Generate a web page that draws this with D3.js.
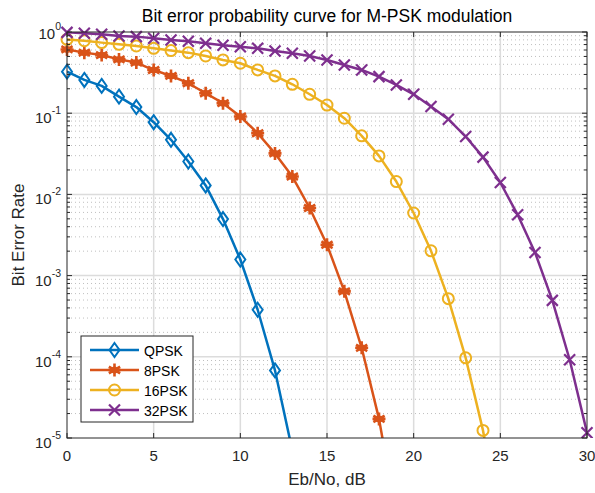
<!DOCTYPE html>
<html>
<head>
<meta charset="utf-8">
<script src="https://cdn.jsdelivr.net/npm/d3@7"></script>
<style>
  body { margin: 0; background: #fff; }
  svg { display: block; font-family: Helvetica, Arial, "Liberation Sans", sans-serif; }
</style>
</head>
<body>
<svg id="chart" width="595" height="493"></svg>
<script>
'use strict';

// Eb/No in dB
const ebno = d3.range(0, 31);

const qpsk = [0.325, 0.257, 0.217, 0.16, 0.119, 0.0775, 0.047, 0.0254, 0.0129,
  0.00497, 0.00158, 0.00038, 6.8e-5, 7e-6];
const psk8 = [0.61, 0.557, 0.52, 0.46, 0.42, 0.34, 0.288, 0.234, 0.176, 0.133,
  0.091, 0.0567, 0.032, 0.0166, 0.0068, 0.0024, 0.00064, 0.000129, 1.72e-5, 1.1e-6];
const psk16 = [0.81, 0.78, 0.74, 0.705, 0.673, 0.63, 0.59, 0.557, 0.507, 0.453,
  0.412, 0.341, 0.288, 0.227, 0.171, 0.126, 0.0867, 0.0526, 0.0298, 0.0144,
  0.0059, 0.00202, 0.00052, 9.7e-5, 1.24e-5, 8e-7];
const psk32 = [0.99, 0.963, 0.936, 0.893, 0.877, 0.836, 0.798, 0.768, 0.726, 0.686,
  0.66, 0.63, 0.584, 0.547, 0.507, 0.453, 0.393, 0.341, 0.282, 0.223,
  0.171, 0.121, 0.0843, 0.0516, 0.0288, 0.014, 0.0056, 0.00193, 0.000495, 9.2e-5, 1.16e-5];

const seriesNames = ['QPSK', '8PSK', '16PSK', '32PSK'];
const seriesValues = [qpsk, psk8, psk16, psk32];
const seriesMarkers = ['diamond', 'asterisk', 'circle', 'cross'];
const COLORS = ['#0072BD', '#D95319', '#EDB120', '#7E2F8E'];

const xTicks = [0, 5, 10, 15, 20, 25, 30];
const yTicks = [1e-5, 1e-4, 1e-3, 1e-2, 1e-1, 1];

const margin = { top: 32, right: 8, bottom: 55, left: 67 };
const W = 595, H = 493;
const width = W - margin.left - margin.right;
const height = H - margin.top - margin.bottom;
const axisColor = '#262626';

const svg = d3.select('#chart');
const defs = svg.append('defs');
const g = svg.append('g').attr('transform', `translate(${margin.left},${margin.top})`);

const x = d3.scaleLinear().domain([0, 30]).range([0, width]);
const y = d3.scaleLog().domain([1e-5, 1]).range([height, 0]);

// minor values for log axis
const minorY = [];
for (let e = -5; e < 0; e++) {
  for (let m = 2; m <= 9; m++) minorY.push(m * Math.pow(10, e));
}

// minor grid (dotted)
g.append('g')
  .selectAll('line')
  .data(minorY)
  .enter()
  .append('line')
  .attr('x1', 0).attr('x2', width)
  .attr('y1', (d) => y(d)).attr('y2', (d) => y(d))
  .attr('stroke', '#bfbfbf')
  .attr('stroke-width', 1)
  .attr('stroke-dasharray', '1,3');

// major grid
g.append('g')
  .selectAll('line')
  .data(xTicks.slice(1, -1))
  .enter()
  .append('line')
  .attr('x1', (d) => x(d)).attr('x2', (d) => x(d))
  .attr('y1', 0).attr('y2', height)
  .attr('stroke', '#dcdcdc')
  .attr('stroke-width', 1.5);

g.append('g')
  .selectAll('line')
  .data(yTicks.slice(1, -1))
  .enter()
  .append('line')
  .attr('x1', 0).attr('x2', width)
  .attr('y1', (d) => y(d)).attr('y2', (d) => y(d))
  .attr('stroke', '#dcdcdc')
  .attr('stroke-width', 1.5);

// clip for the lines (markers may overhang the box a little)
defs.append('clipPath').attr('id', 'lineclip')
  .append('rect').attr('width', width).attr('height', height);
defs.append('clipPath').attr('id', 'markclip')
  .append('rect').attr('x', -8).attr('y', -8)
  .attr('width', width + 16).attr('height', height + 8);

const line = d3.line()
  .x((d, i) => x(ebno[i]))
  .y((d) => y(d));

function drawMarker(sel, type, color) {
  if (type === 'diamond') {
    sel.append('path').attr('d', 'M0,-7L5,0L0,7L-5,0Z')
      .attr('fill', 'none').attr('stroke', color).attr('stroke-width', 2);
  } else if (type === 'circle') {
    sel.append('circle').attr('r', 5.5)
      .attr('fill', 'none').attr('stroke', color).attr('stroke-width', 2);
  } else if (type === 'cross') {
    sel.append('path').attr('d', 'M-5.5,-5.5L5.5,5.5M-5.5,5.5L5.5,-5.5')
      .attr('fill', 'none').attr('stroke', color).attr('stroke-width', 2.2);
  } else if (type === 'asterisk') {
    sel.append('path').attr('d', 'M0,-6.5V6.5M-5.6,-3.3L5.6,3.3M-5.6,3.3L5.6,-3.3M-6.5,0H6.5')
      .attr('fill', 'none').attr('stroke', color).attr('stroke-width', 2.6);
    sel.append('circle').attr('r', 3.5).attr('fill', color);
  }
}

const lines = g.append('g').attr('clip-path', 'url(#lineclip)');
const marks = g.append('g').attr('clip-path', 'url(#markclip)');

seriesValues.forEach((vals, si) => {
  lines.append('path')
    .datum(vals)
    .attr('d', line)
    .attr('fill', 'none')
    .attr('stroke', COLORS[si])
    .attr('stroke-width', 2.5)
    .attr('stroke-linejoin', 'round');

  vals.forEach((v, i) => {
    if (v < 1e-5 * 0.6) return;
    const m = marks.append('g').attr('transform', `translate(${x(ebno[i])},${y(v)})`);
    drawMarker(m, seriesMarkers[si], COLORS[si]);
  });
});

// axes box
g.append('rect')
  .attr('width', width).attr('height', height)
  .attr('fill', 'none').attr('stroke', axisColor).attr('stroke-width', 1);

// ticks (inward, both sides)
const tickLen = 5;
xTicks.forEach((t) => {
  g.append('line').attr('x1', x(t)).attr('x2', x(t))
    .attr('y1', height).attr('y2', height - tickLen).attr('stroke', axisColor);
  g.append('line').attr('x1', x(t)).attr('x2', x(t))
    .attr('y1', 0).attr('y2', tickLen).attr('stroke', axisColor);
  g.append('text').attr('x', x(t)).attr('y', height + 23)
    .attr('text-anchor', 'middle').attr('font-size', 15).attr('fill', axisColor)
    .text(t);
});

yTicks.forEach((t) => {
  g.append('line').attr('x1', 0).attr('x2', tickLen)
    .attr('y1', y(t)).attr('y2', y(t)).attr('stroke', axisColor);
  g.append('line').attr('x1', width).attr('x2', width - tickLen)
    .attr('y1', y(t)).attr('y2', y(t)).attr('stroke', axisColor);
  const lbl = g.append('text').attr('x', -6).attr('y', y(t) + (t === 1 ? 7 : 10))
    .attr('text-anchor', 'end').attr('font-size', 15).attr('fill', axisColor);
  lbl.append('tspan').text('10');
  lbl.append('tspan').attr('dy', -9).attr('font-size', 10.5)
    .text(Math.round(Math.log10(t)));
});

minorY.forEach((t) => {
  g.append('line').attr('x1', 0).attr('x2', 3)
    .attr('y1', y(t)).attr('y2', y(t)).attr('stroke', axisColor);
  g.append('line').attr('x1', width).attr('x2', width - 3)
    .attr('y1', y(t)).attr('y2', y(t)).attr('stroke', axisColor);
});

// title and labels
svg.append('text')
  .attr('x', margin.left + width / 2).attr('y', 22)
  .attr('text-anchor', 'middle').attr('font-size', 17.5).attr('fill', '#000')
  .text('Bit error probability curve for M-PSK modulation');

svg.append('text')
  .attr('x', margin.left + width / 2).attr('y', 485)
  .attr('text-anchor', 'middle').attr('font-size', 17).attr('fill', axisColor)
  .text('Eb/No, dB');

svg.append('text')
  .attr('transform', `translate(24,${margin.top + height / 2}) rotate(-90)`)
  .attr('text-anchor', 'middle').attr('font-size', 17).attr('fill', axisColor)
  .text('Bit Error Rate');

// legend
const legend = g.append('g').attr('transform', 'translate(14,304)');
legend.append('rect')
  .attr('width', 112).attr('height', 86)
  .attr('fill', '#fff').attr('stroke', axisColor).attr('stroke-width', 1);

seriesNames.forEach((name, i) => {
  const row = legend.append('g').attr('transform', `translate(0,${14 + i * 20})`);
  row.append('line').attr('x1', 9).attr('x2', 58)
    .attr('stroke', COLORS[i]).attr('stroke-width', 2.5);
  const m = row.append('g').attr('transform', 'translate(33.5,0)');
  drawMarker(m, seriesMarkers[i], COLORS[i]);
  row.append('text').attr('x', 63).attr('y', 5.5)
    .attr('font-size', 14).attr('fill', '#000').text(name);
});
</script>
</body>
</html>
